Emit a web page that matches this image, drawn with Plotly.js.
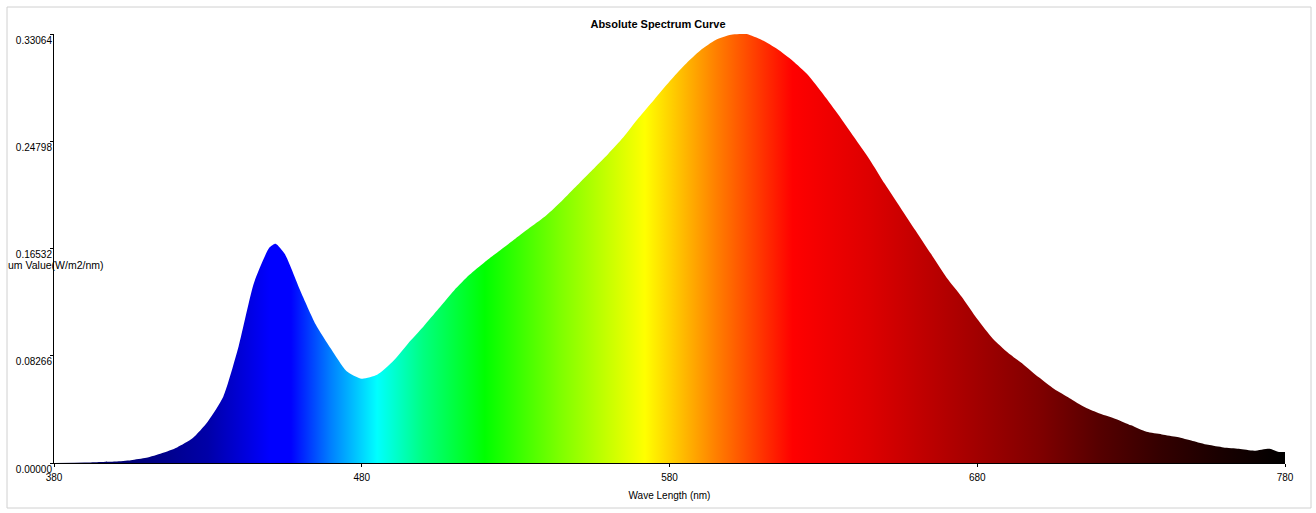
<!DOCTYPE html>
<html>
<head>
<meta charset="utf-8">
<script src="https://cdn.plot.ly/plotly-3.0.1.min.js"></script>
<style>
html,body{margin:0;padding:0;background:#fff;}
#chart{width:1316px;height:513px;}
</style>
</head>
<body>
<div id="chart"></div>
<script>
// Wavelengths (nm)
const wavelengths = [380,390,395,400,405,410,415,420,425,430,435,440,445,450,452,455,460,465,470,475,
  480,485,490,495,500,505,510,515,520,525,530,535,540,545,550,555,560,565,570,575,
  580,585,590,595,600,605,610,615,620,625,630,635,640,645,650,655,660,665,670,675,
  680,685,690,695,700,705,710,715,720,725,730,735,740,745,750,755,760,765,770,775,778,780];
// Absolute spectrum values (W/m2/nm)
const spectrum = [0.0000,0.0003,0.0008,0.0012,0.0022,0.0040,0.0075,0.0120,0.0190,0.0320,0.0510,0.0900,0.1390,0.1660,0.1690,0.1610,0.1330,0.1070,0.0880,0.0710,
  0.0650,0.0680,0.0780,0.0920,0.1050,0.1190,0.1330,0.1450,0.1550,0.1640,0.1730,0.1820,0.1910,0.2020,0.2140,0.2260,0.2380,0.2510,0.2660,0.2800,
  0.2940,0.3070,0.3180,0.3260,0.3300,0.3306,0.3260,0.3190,0.3100,0.2990,0.2840,0.2680,0.2510,0.2340,0.2150,0.1970,0.1790,0.1610,0.1430,0.1280,
  0.1110,0.0960,0.0850,0.0760,0.0660,0.0570,0.0500,0.0430,0.0380,0.0340,0.0290,0.0240,0.0220,0.0200,0.0170,0.0140,0.0120,0.0110,0.0095,0.0110,0.0085,0.0085];
// Axis ticks
const yTickVals = [0, 0.08266, 0.16532, 0.24798, 0.33064];
const yTickText = ["0.00000","0.08266","0.16532","0.24798","0.33064"];
const xTickVals = [380, 480, 580, 680, 780];
// Spectrum colour stops (wavelength, colour)
const colorWl = [380,410,430,450,457,470,485,500,520,545,572,595,620,645,665,685,700,720,740,760,780];
const colorHex = ["#000050","#000080","#0000a8","#0000ff","#0000ff","#0080ff","#00ffff","#00ff80","#00ff00","#80ff00","#ffff00","#ff8000","#ff0000","#dd0000","#bb0000","#990000","#800000","#550000","#330000","#180000","#000000"];

const xMin = 380, xMax = 780;
const colorscale = colorWl.map((w,i)=>[(w-xMin)/(xMax-xMin), colorHex[i]]);

const font = "Liberation Sans, Arial, sans-serif";

const trace = {
  x: wavelengths, y: spectrum, type: 'scatter', mode: 'lines',
  line: {width: 0, shape: 'spline', smoothing: 0.6},
  fill: 'tozeroy',
  fillgradient: {type: 'horizontal', colorscale: colorscale, start: xMin, stop: xMax},
  hoverinfo: 'skip', showlegend: false
};

const layout = {
  width: 1316, height: 513,
  margin: {l: 54, r: 31, t: 34, b: 50},
  paper_bgcolor: '#ffffff', plot_bgcolor: '#ffffff',
  font: {family: font, size: 10, color: '#000'},
  title: {text: '<b>Absolute Spectrum Curve</b>', font: {family: font, size: 11, color: '#000'},
          x: 0.5, xref: 'container', y: 1 - 24/513, yref: 'container', yanchor: 'middle'},
  xaxis: {
    range: [xMin, xMax], tickvals: xTickVals, ticks: 'outside', ticklen: 3, tickcolor: '#000',
    showline: true, linecolor: '#000', linewidth: 1, showgrid: false, zeroline: false,
    tickfont: {family: font, size: 10, color: '#000'}, ticklabelstandoff: 2,
    title: {text: 'Wave Length (nm)', font: {family: font, size: 10, color: '#000'}, standoff: 9}
  },
  yaxis: {
    range: [0, 0.33064], tickvals: yTickVals, ticktext: yTickText, ticks: 'outside', ticklen: 3, tickcolor: '#000',
    showline: true, linecolor: '#000', linewidth: 1, showgrid: false, zeroline: false,
    tickfont: {family: font, size: 10, color: '#000'}, ticklabelstandoff: -4, ticklabelshift: 6
  },
  annotations: [{
    text: 'um Value(W/m2/nm)', xref: 'paper', yref: 'paper',
    x: (6-54)/1231, y: (463-265)/429, xanchor: 'left', yanchor: 'middle',
    showarrow: false, font: {family: font, size: 10.5, color: '#000'}
  }],
  shapes: [{
    type: 'rect', xref: 'paper', yref: 'paper',
    x0: (7-54)/1231, x1: (1311-54)/1231, y0: (463-508)/429, y1: (463-7)/429,
    line: {color: '#d0d0d0', width: 1}, fillcolor: 'rgba(0,0,0,0)', layer: 'below'
  }]
};

Plotly.newPlot('chart', [trace], layout, {displayModeBar: false, staticPlot: true});
</script>
</body>
</html>
